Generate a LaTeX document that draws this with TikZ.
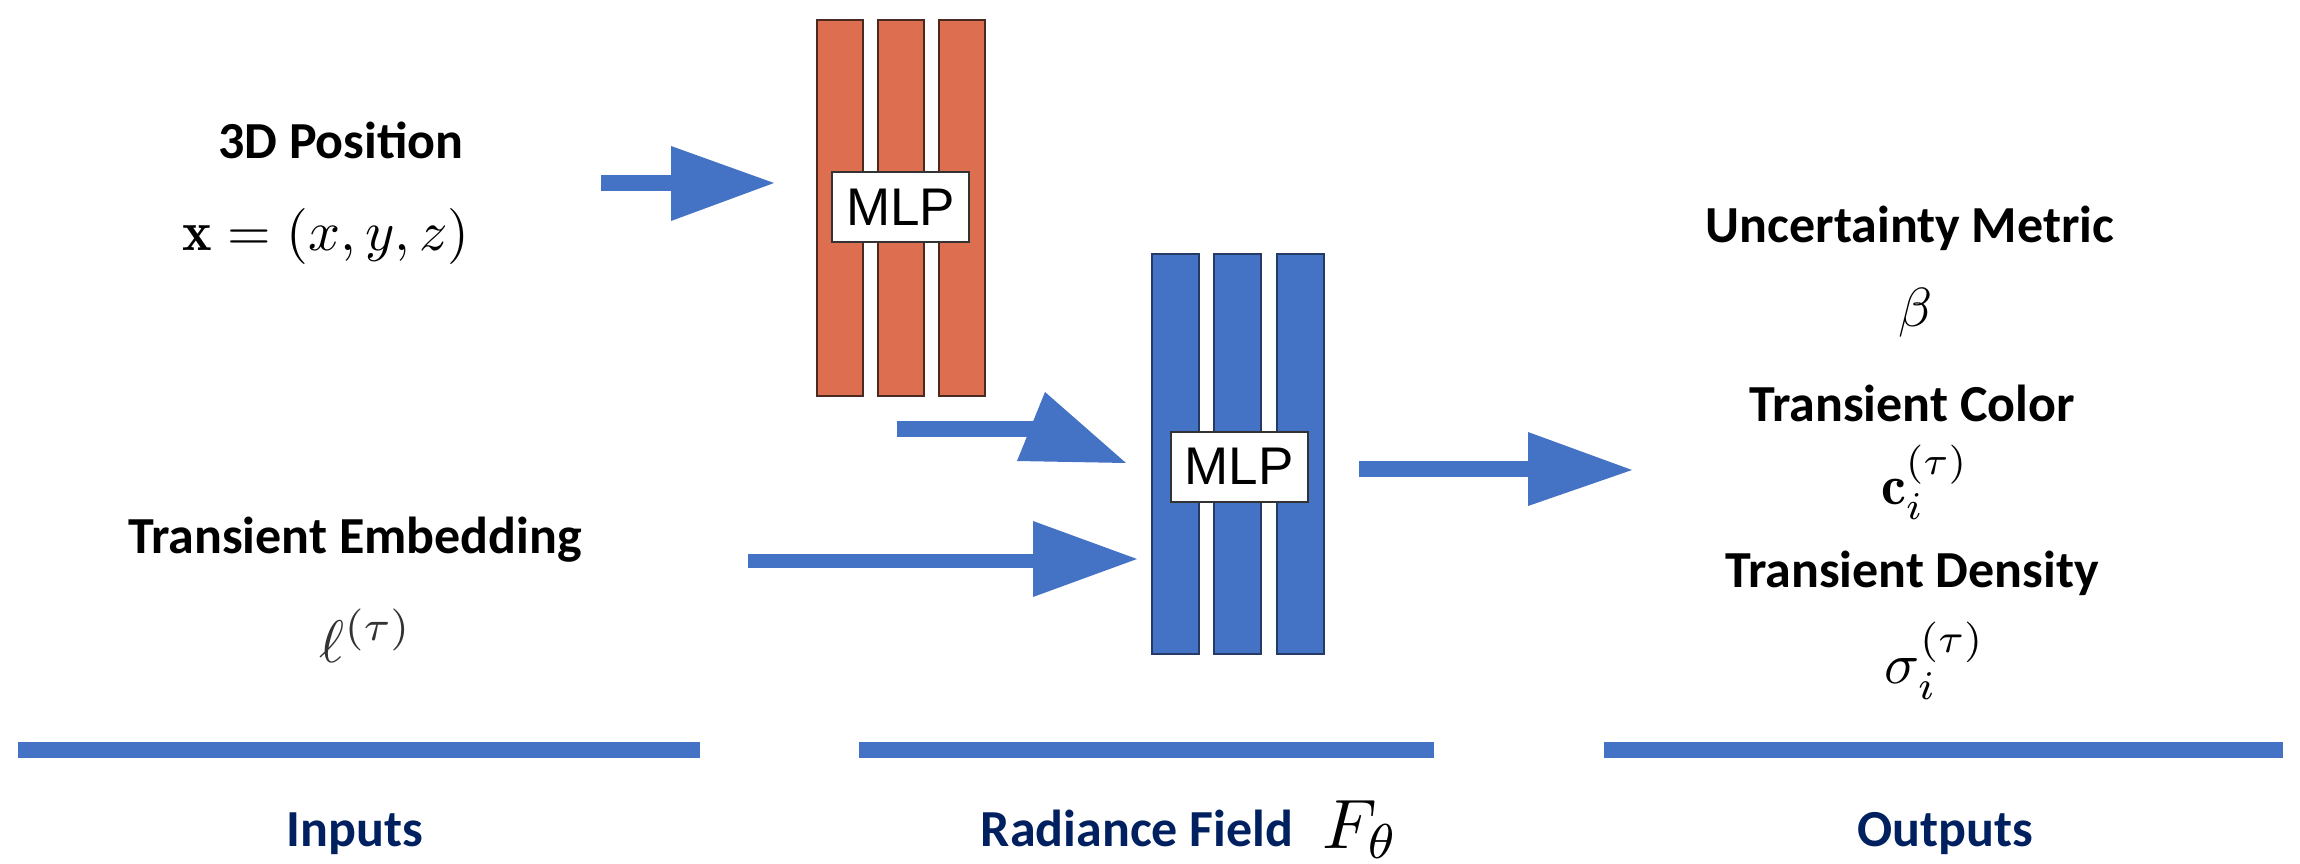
\documentclass[tikz,border=0pt]{standalone}
\usepackage{graphicx}
\usepackage{amsmath}
\usepackage{fontspec}
\newfontfamily\calib{Carlito}
\newfontfamily\arialf{Liberation Sans}
\definecolor{navy}{HTML}{002060}
\definecolor{ablue}{HTML}{4472C4}
\definecolor{oorange}{HTML}{DE6E50}
\definecolor{edgeo}{HTML}{4A2A20}
\definecolor{edgeb}{HTML}{263A66}
\tikzset{
  lbl/.style={font=\calib\bfseries\fontsize{52}{60}\selectfont, anchor=base, inner sep=0pt},
  sec/.style={lbl, text=navy},
  mth/.style={anchor=base, inner sep=0pt},
  obar/.style={draw=edgeo, line width=2pt, fill=oorange, minimum width=46pt, minimum height=376pt, inner sep=0pt},
  bbar/.style={draw=edgeb, line width=2pt, fill=ablue, minimum width=47pt, minimum height=400pt, inner sep=0pt},
  mlpbox/.style={draw=black!80, line width=2pt, fill=white, minimum width=137pt, minimum height=70pt, inner sep=0pt, font=\arialf\fontsize{53}{60}\selectfont},
  arrowc/.style={fill=ablue},
}
\begin{document}
\begin{tikzpicture}[x=1pt,y=-1pt]
\useasboundingbox (0,0) rectangle (2300,864);

% inputs
\node[lbl] (pos) at (341,158) {3D Position};
\node[mth] (posm) at (326,250) {\scalebox{5.6}{$\mathbf{x}=(x,y,z)$}};
\node[lbl] (emb) at (355,553) {Transient Embedding};
\node[mth, text=black!80] (embm) at (366,662) {\scalebox{6}{$\ell^{(\tau)}$}};

% orange MLP
\node[obar] (o1) at (840,208) {};
\node[obar] (o2) at (901,208) {};
\node[obar] (o3) at (961.5,208) {};
\node[mlpbox] (mlp1) at (900.5,207) {MLP};

% blue MLP
\node[bbar] (b1) at (1175.5,454) {};
\node[bbar] (b2) at (1237.5,454) {};
\node[bbar] (b3) at (1300,454) {};
\node[mlpbox] (mlp2) at (1239,466.5) {MLP};

% arrows
\fill[arrowc] (601,175) rectangle (673,191);
\fill[arrowc] (671,146) -- (774,183) -- (671,221) -- cycle;

\fill[arrowc] (897,421) rectangle (1040,437);
\fill[arrowc] (1045,392) -- (1126,463) -- (1017,461) -- cycle;

\fill[arrowc] (748,554) rectangle (1035,568);
\fill[arrowc] (1033,521) -- (1137,559) -- (1033,597) -- cycle;

\fill[arrowc] (1359,461) rectangle (1530,477);
\fill[arrowc] (1528,432) -- (1632,470) -- (1528,506) -- cycle;

% outputs
\node[lbl] (unc) at (1910,242) {Uncertainty Metric};
\node[mth] (uncm) at (1915,326) {\scalebox{5.5}{$\beta$}};
\node[lbl] (col) at (1912,421) {Transient Color};
\node[mth] (colm) at (1925,504) {\scalebox{5.6}{$\mathbf{c}_i^{(\tau)}$}};
\node[lbl] (den) at (1912,587) {Transient Density};
\node[mth] (denm) at (1935,683) {\scalebox{5.8}{$\sigma_i^{(\tau)}$}};

% section bars
\fill[ablue] (18,742) rectangle (700,758);
\fill[ablue] (859,742) rectangle (1434,758);
\fill[ablue] (1604,742) rectangle (2283,758);

% section labels
\node[sec] (inp) at (355,846) {Inputs};
\node[sec] (rad) at (1137,846) {Radiance Field};
\node[mth, anchor=base west] (F) at (1322,848) {\scalebox{7}{$F_\theta$}};
\node[sec] (outp) at (1945,846) {Outputs};
\end{tikzpicture}
\end{document}
